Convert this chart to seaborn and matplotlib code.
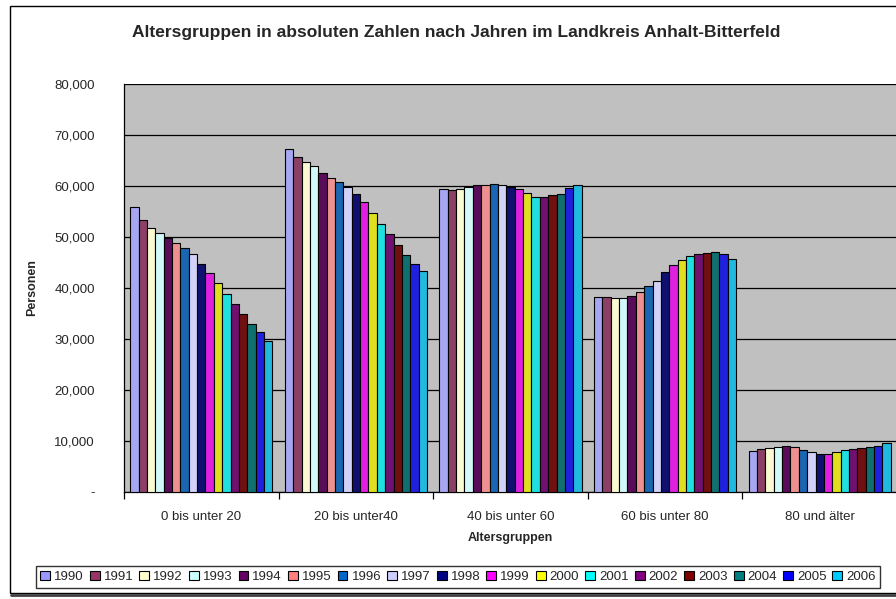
import matplotlib
matplotlib.use("Agg")
import matplotlib.pyplot as plt
import seaborn as sns
import numpy as np
import pandas as pd
from matplotlib.patches import Patch, Rectangle
from matplotlib.ticker import FuncFormatter, FixedLocator

# data
years = [str(y) for y in range(1990, 2007)]
groups = ['0 bis unter 20', '20 bis unter40', '40 bis unter 60', '60 bis unter 80', '80 und älter']

g_0_20 = [55800, 53300, 51800, 50700, 49800, 48800, 47800, 46600, 44700,
          42900, 41000, 38800, 36800, 34800, 32800, 31300, 29500]
g_20_40 = [67300, 65600, 64700, 63900, 62500, 61500, 60800, 59700, 58500,
           56800, 54600, 52600, 50500, 48400, 46500, 44700, 43200]
g_40_60 = [59300, 59100, 59400, 59800, 60200, 60200, 60300, 60100, 59800,
           59300, 58600, 57900, 57900, 58200, 58400, 59500, 60100]
g_60_80 = [38200, 38200, 38000, 38000, 38300, 39100, 40300, 41400, 43100,
           44500, 45400, 46300, 46700, 46900, 47100, 46700, 45600]
g_80 = [8000, 8300, 8500, 8700, 9000, 8700, 8100, 7700, 7300,
        7300, 7700, 8100, 8300, 8500, 8700, 9000, 9500]

colors = ['#9999FF', '#993366', '#FFFFCC', '#CCFFFF', '#660066', '#FF8080',
          '#0066CC', '#CCCCFF', '#000080', '#FF00FF', '#FFFF00', '#00FFFF',
          '#800080', '#800000', '#008080', '#0000FF', '#00CCFF']

rows = []
for grp, vals in zip(groups, [g_0_20, g_20_40, g_40_60, g_60_80, g_80]):
    for yr, v in zip(years, vals):
        rows.append({'Altersgruppe': grp, 'Jahr': yr, 'Personen': v})
df = pd.DataFrame(rows)

sns.set_style('white')
plt.rcParams['font.family'] = ['Liberation Sans', 'DejaVu Sans']

fig = plt.figure(figsize=(8.96, 5.99), dpi=100)
W, H = 896, 599
ax = fig.add_axes([124 / W, 1 - 491.5 / H, (897 - 124) / W, (491.5 - 84) / H])
ax.set_facecolor('#C0C0C0')

sns.barplot(data=df, x='Altersgruppe', y='Personen', hue='Jahr', order=groups,
            hue_order=years, palette=colors, width=0.92, errorbar=None,
            edgecolor='black', linewidth=0.8, ax=ax, legend=False, zorder=3)

ax.set_xlim(-0.5, 4.5)
ax.set_ylim(0, 80000)
ax.set_yticks(np.arange(0, 80001, 10000))
ax.yaxis.set_major_formatter(FuncFormatter(lambda v, p: '-' if v == 0 else f'{v:,.0f}'))
ax.grid(axis='y', color='black', linewidth=0.9, zorder=0)
ax.set_axisbelow(True)

ax.xaxis.set_minor_locator(FixedLocator(np.arange(-0.5, 5, 1)))
ax.tick_params(axis='x', which='major', length=0, pad=14, labelsize=9.5)
ax.tick_params(axis='x', which='minor', length=5, width=0.9, color='black', direction='out')
ax.tick_params(axis='y', length=5, width=0.9, color='black', direction='out', pad=16, labelsize=9.5)
ax.xaxis.set_ticks_position('bottom')

for s in ['top', 'right']:
    ax.spines[s].set_visible(False)
for s in ['left', 'bottom']:
    ax.spines[s].set_color('black')
    ax.spines[s].set_linewidth(0.9)

ax.set_xlabel('')
ax.set_ylabel('')
fig.text(510 / W, 1 - 538 / H, 'Altersgruppen', ha='center', va='center',
         fontsize=9, fontweight='bold')
fig.text(32 / W, 1 - 288 / H, 'Personen', ha='center', va='center',
         rotation=90, fontsize=9, fontweight='bold')
fig.text(456 / W, 1 - 33 / H,
         'Altersgruppen in absoluten Zahlen nach Jahren im Landkreis Anhalt-Bitterfeld',
         ha='center', va='center', fontsize=12.5, fontweight='bold')

handles = [Patch(facecolor=c, edgecolor='black', linewidth=0.8) for c in colors]
leg = fig.legend(handles, years, loc='center', bbox_to_anchor=(458 / W, 1 - 577 / H),
                 ncol=17, frameon=True, fancybox=False, edgecolor='black',
                 handlelength=0.75, handleheight=0.75, handletextpad=0.3,
                 columnspacing=0.46, borderpad=0.35, fontsize=9.5)
leg.get_frame().set_linewidth(1)

# chart area border with shadow
fig.add_artist(Rectangle((10 / W, 1 - 593 / H), 1.0, (593 - 6) / H,
                         transform=fig.transFigure, fill=False,
                         edgecolor='black', linewidth=1))
fig.add_artist(plt.Line2D([11 / W, 1.0], [1 - 595 / H, 1 - 595 / H],
                          transform=fig.transFigure, color='#404040', linewidth=2))

fig.savefig('out.png', dpi=100)
